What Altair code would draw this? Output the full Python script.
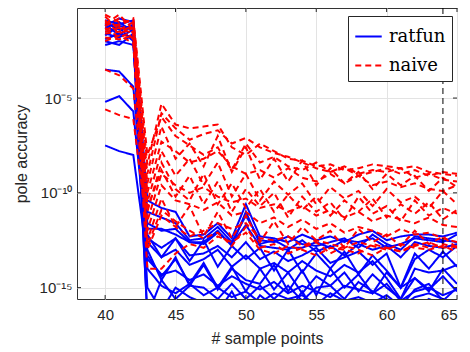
import altair as alt
import pandas as pd

x_points = list(range(40, 66))

# log10 of pole accuracy (x = 40 ... 65)
ratfun_log = [
    [-0.9,-1.1,-0.9,-10.4,-10.8,-11.0,-12.3,-12.2,-11.6,-12.4,-10.6,-12.3,-12.4,-12.6,-12.2,-12.5,-12.3,-12.6,-12.2,-12.0,-12.5,-12.3,-12.2,-12.2,-12.3,-12.1],
    [-1.3,-1.0,-1.5,-11.0,-11.3,-11.6,-12.5,-12.4,-11.8,-12.6,-11.2,-12.5,-12.6,-12.3,-12.7,-12.8,-12.6,-12.4,-12.9,-12.2,-12.7,-13.0,-12.3,-12.4,-12.5,-12.6],
    [-1.6,-1.8,-1.4,-11.6,-12.0,-11.9,-12.6,-12.7,-12.1,-12.7,-11.7,-12.8,-12.9,-13.0,-12.5,-13.1,-12.8,-13.3,-12.7,-13.0,-12.8,-13.4,-12.6,-12.8,-12.9,-12.7],
    [-2.2,-2.0,-2.2,-12.2,-13.4,-12.4,-13.6,-12.5,-13.9,-12.8,-13.5,-12.9,-14.1,-13.0,-14.2,-13.2,-14.0,-13.1,-14.3,-13.3,-14.1,-15.0,-13.2,-14.0,-13.1,-13.9],
    [-3.5,-3.6,-4.4,-12.6,-13.4,-13.0,-13.8,-13.5,-13.0,-13.9,-13.3,-14.0,-13.7,-14.2,-13.6,-14.1,-14.4,-13.8,-14.2,-13.6,-14.5,-15.6,-14.0,-14.2,-14.1,-13.8],
    [-5.2,-4.9,-5.7,-13.0,-14.6,-13.4,-14.9,-13.8,-15.1,-14.0,-14.6,-14.8,-13.8,-15.2,-14.1,-15.4,-14.0,-15.0,-14.3,-15.3,-14.2,-15.0,-14.5,-15.2,-14.0,-14.8],
    [-7.5,-7.8,-8.0,-13.5,-14.3,-14.1,-14.6,-14.3,-14.9,-14.4,-14.8,-15.1,-14.7,-15.3,-14.9,-15.2,-15.5,-14.9,-15.1,-15.3,-14.8,-15.7,-15.2,-15.0,-15.4,-15.1],
    [-1.0,-1.4,-1.2,-14.0,-14.9,-15.3,-14.8,-15.4,-15.0,-15.5,-15.2,-15.8,-15.3,-15.6,-15.4,-15.9,-15.3,-15.7,-15.5,-15.8,-15.4,-16.0,-15.5,-15.3,-15.6,-15.9],
    [-1.9,-1.6,-1.8,-16.5,-15.8,-16.2,-15.9,-16.5,-15.6,-16.0,-16.3,-15.7,-16.1,-15.8,-16.4,-15.9,-16.2,-15.6,-16.3,-15.9,-16.1,-16.5,-15.7,-16.0,-16.2,-16.4],
    [-1.2,-0.8,-1.0,-12.4,-12.9,-12.4,-13.3,-13.2,-12.8,-13.4,-12.6,-13.5,-13.1,-13.6,-13.3,-12.9,-13.7,-13.4,-13.1,-13.8,-13.2,-15.0,-13.5,-13.0,-13.4,-12.8],
    [-1.5,-1.3,-2.0,-13.3,-14.4,-13.5,-14.8,-13.7,-15.0,-13.9,-15.2,-14.0,-15.1,-14.2,-15.3,-14.4,-14.9,-14.2,-15.2,-14.3,-15.0,-15.6,-14.5,-15.1,-14.4,-15.2],
    [-2.0,-2.2,-1.6,-16.5,-14.6,-15.6,-14.9,-15.0,-15.6,-14.8,-15.6,-14.9,-15.6,-14.9,-15.7,-15.0,-14.9,-15.6,-14.7,-15.2,-15.6,-16.0,-15.1,-14.8,-15.7,-15.0],
    [-1.1,-1.7,-1.1,-11.9,-11.9,-12.2,-12.6,-12.6,-12.0,-12.8,-11.0,-12.7,-12.5,-12.9,-12.9,-12.6,-12.9,-12.5,-12.6,-12.4,-12.9,-12.7,-12.4,-12.5,-12.6,-12.2],
    [-1.7,-1.2,-1.3,-15.0,-16.2,-15.0,-15.5,-15.8,-16.3,-15.2,-16.5,-15.4,-16.0,-16.3,-15.2,-16.4,-15.8,-16.2,-15.9,-16.4,-15.8,-16.3,-16.1,-15.6,-15.9,-16.4],
]

naive_log = [
    [-0.6,-1.0,-0.9,-8.5,-5.3,-6.4,-6.6,-6.5,-6.4,-7.6,-8.0,-7.4,-7.8,-8.2,-8.3,-8.6,-8.5,-8.8,-8.7,-8.5,-8.6,-8.7,-8.6,-8.9,-9.0,-9.1],
    [-1.2,-0.8,-1.1,-9.0,-5.8,-6.6,-7.2,-6.9,-6.7,-7.4,-7.1,-7.6,-7.9,-8.1,-8.4,-8.7,-8.9,-8.6,-9.0,-8.8,-8.9,-8.7,-9.2,-9.0,-9.3,-9.4],
    [-1.5,-1.3,-1.6,-9.5,-6.5,-8.2,-7.4,-8.6,-7.0,-8.9,-7.6,-9.3,-8.2,-9.4,-8.3,-9.6,-8.7,-9.5,-8.9,-9.8,-9.0,-9.6,-9.1,-9.9,-9.2,-9.7],
    [-0.9,-1.6,-1.3,-10.0,-7.3,-7.8,-8.4,-8.2,-7.8,-8.6,-9.0,-8.8,-9.2,-8.7,-9.2,-9.4,-9.0,-9.5,-9.1,-9.6,-9.4,-9.7,-9.5,-9.8,-9.9,-9.6],
    [-1.8,-1.9,-1.7,-10.5,-7.8,-9.1,-8.2,-9.6,-8.4,-10.2,-9.0,-10.4,-9.4,-10.1,-9.5,-10.6,-9.7,-10.3,-9.9,-10.7,-9.8,-10.5,-10.2,-10.8,-9.9,-10.6],
    [-1.4,-1.1,-1.9,-11.0,-8.4,-9.8,-10.4,-9.0,-10.6,-9.5,-10.8,-9.8,-11.0,-10.1,-10.9,-10.2,-11.2,-10.4,-11.0,-10.3,-11.3,-10.6,-11.1,-10.5,-11.4,-10.9],
    [-3.5,-3.8,-4.5,-11.5,-9.0,-9.6,-10.0,-9.7,-10.2,-10.5,-10.3,-10.8,-10.6,-11.0,-10.7,-11.2,-10.9,-11.3,-11.0,-11.5,-11.2,-11.4,-11.6,-11.3,-11.7,-11.8],
    [-5.6,-5.9,-6.1,-12.0,-9.6,-10.4,-10.6,-10.9,-10.5,-11.2,-11.0,-11.6,-11.3,-11.8,-11.4,-11.9,-11.6,-12.1,-11.8,-12.0,-12.3,-11.9,-12.2,-12.1,-12.4,-12.6],
    [-0.7,-1.4,-1.0,-12.5,-10.3,-11.8,-10.7,-12.3,-11.0,-12.4,-11.2,-12.6,-11.5,-12.7,-11.8,-12.5,-12.0,-12.9,-11.9,-12.6,-12.2,-12.8,-12.0,-12.7,-12.3,-12.9],
    [-1.1,-0.6,-1.4,-13.0,-11.2,-11.8,-12.3,-12.0,-11.6,-11.9,-11.6,-12.4,-12.5,-12.3,-12.8,-12.5,-12.7,-12.9,-12.6,-12.8,-13.0,-12.7,-12.9,-13.0,-12.8,-13.1],
    [-2.0,-1.7,-2.1,-14.0,-14.0,-13.2,-12.7,-12.9,-12.3,-12.6,-12.1,-13.0,-13.2,-12.8,-13.0,-13.3,-12.9,-13.0,-13.2,-12.7,-12.9,-13.1,-12.8,-12.6,-12.9,-12.8],
    [-1.0,-1.2,-0.8,-8.0,-6.0,-7.0,-7.5,-8.0,-7.6,-8.8,-7.4,-8.4,-8.1,-8.6,-8.8,-8.4,-8.9,-8.7,-9.1,-8.9,-8.7,-9.0,-8.8,-9.1,-8.9,-9.0],
    [-1.6,-1.5,-1.2,-10.8,-8.8,-10.2,-9.1,-10.6,-9.4,-11.0,-9.8,-10.7,-10.0,-11.3,-10.2,-11.0,-10.5,-11.4,-10.2,-11.1,-10.7,-11.5,-10.4,-11.2,-10.8,-11.1],
    [-1.3,-1.8,-1.5,-12.8,-10.9,-11.5,-12.0,-12.4,-12.1,-12.8,-11.8,-12.9,-12.7,-13.2,-12.9,-12.6,-13.2,-12.8,-13.0,-13.3,-12.9,-13.1,-12.7,-12.9,-12.7,-12.9],
]

methods = ["ratfun", "naive"]
colors = ["#0000ff", "#ff0000"]
x_ticks = [40, 45, 50, 55, 60, 65]
y_ticks = [1e-15, 1e-10, 1e-5]
y_labels = ["10⁻¹⁵", "10⁻¹⁰", "10⁻⁵"]
marker_x = [64]

rows = []
order = 0
for method, series_list in (("ratfun", ratfun_log), ("naive", naive_log)):
    for k, s in enumerate(series_list):
        for xv, lv in zip(x_points, s):
            rows.append({"method": method, "series": f"{method}{k}", "order": order,
                         "n": xv, "acc": 10 ** lv})
        order += 1
df = pd.DataFrame(rows)

W, H = 380, 291
xscale = alt.Scale(domain=[38, 65], nice=False, zero=False)
yscale = alt.Scale(type="log", domain=[10 ** -15.6, 10 ** -0.25], nice=False)

label_expr = " : ".join(
    [f"datum.value < {v*1.5:g} && datum.value > {v/1.5:g} ? '{l}'" for v, l in zip(y_ticks, y_labels)]
) + " : ''"

legend = alt.Legend(title=None, orient="none", legendX=271, legendY=8,
                    symbolType="stroke", symbolSize=700, symbolStrokeWidth=2,
                    labelFont="DejaVu Serif", labelFontSize=18,
                    labelColor="#000000",
                    strokeColor="#262626", fillColor="#ffffff",
                    padding=6, rowPadding=5, labelOffset=6)

lines = alt.Chart(df).mark_line(strokeWidth=2, clip=True).encode(
    x=alt.X("n:Q", scale=xscale,
            axis=alt.Axis(values=x_ticks, title="# sample points", grid=True)),
    y=alt.Y("acc:Q", scale=yscale,
            axis=alt.Axis(values=y_ticks, labelExpr=label_expr, title="pole accuracy", grid=True)),
    color=alt.Color("method:N", scale=alt.Scale(domain=methods, range=colors), legend=legend),
    strokeDash=alt.StrokeDash("method:N", scale=alt.Scale(domain=methods, range=[[1, 0], [6, 4]]),
                              legend=legend),
    detail="series:N",
    order="order:Q",
)

vline = alt.Chart(pd.DataFrame({"n": marker_x})).mark_rule(
    color="#000000", strokeDash=[6, 4], strokeWidth=1
).encode(x=alt.X("n:Q", scale=xscale))

xt = pd.DataFrame({"n": x_ticks})
yt = pd.DataFrame({"acc": y_ticks})
tick_col = "#262626"
xtick_bot = alt.Chart(xt).mark_rule(color=tick_col).encode(
    x=alt.X("n:Q", scale=xscale), y=alt.value(H), y2=alt.value(H - 4))
xtick_top = alt.Chart(xt).mark_rule(color=tick_col).encode(
    x=alt.X("n:Q", scale=xscale), y=alt.value(0), y2=alt.value(4))
ytick_l = alt.Chart(yt).mark_rule(color=tick_col).encode(
    y=alt.Y("acc:Q", scale=yscale), x=alt.value(0), x2=alt.value(4))
ytick_r = alt.Chart(yt).mark_rule(color=tick_col).encode(
    y=alt.Y("acc:Q", scale=yscale), x=alt.value(W), x2=alt.value(W - 4))

chart = alt.layer(lines, vline, xtick_bot, xtick_top, ytick_l, ytick_r).properties(
    width=W, height=H,
    autosize=alt.AutoSizeParams(type="none"),
    padding={"left": 69, "top": 0, "right": 5, "bottom": 52},
).configure_view(
    stroke="#333333", strokeWidth=1
).configure_axis(
    domain=False, ticks=False, gridColor="#e3e3e3", gridWidth=1,
    labelFont="Liberation Sans", labelFontSize=15, labelColor="#262626",
    titleFont="Liberation Sans", titleFontSize=16, titleColor="#262626", titleFontWeight="normal",
).configure_axisX(
    labelPadding=8, titlePadding=8
).configure_axisY(
    labelPadding=5, titlePadding=10
)

chart.save("out.html", embed_options={"renderer": "svg", "actions": False})
